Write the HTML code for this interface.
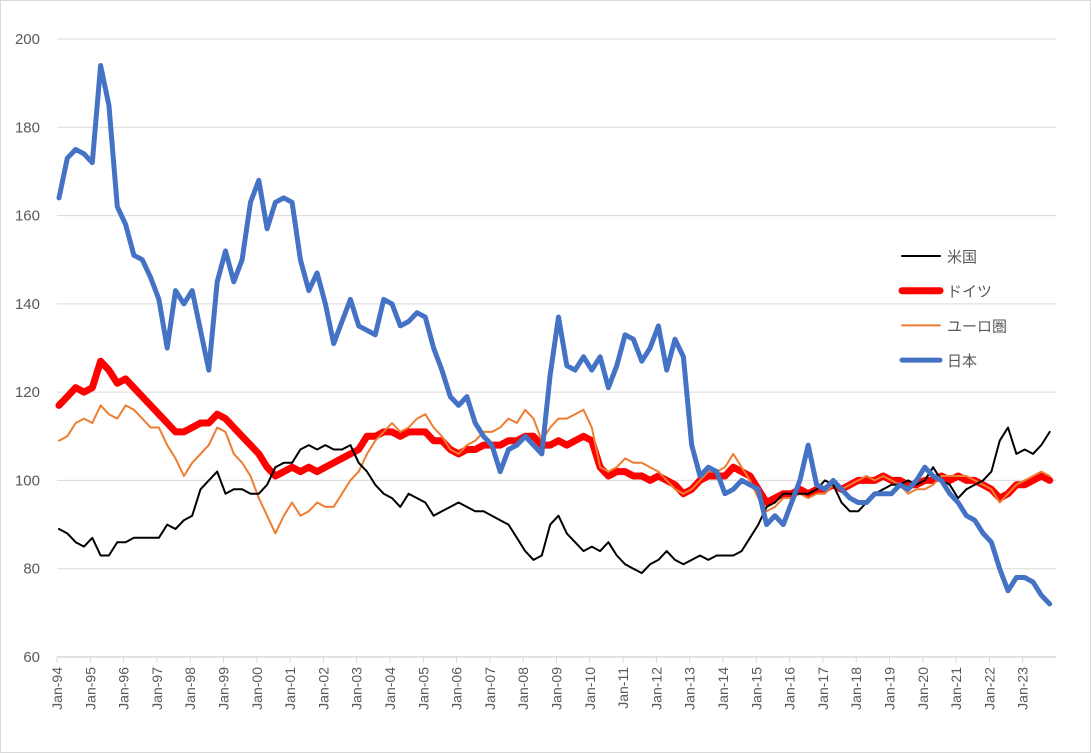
<!DOCTYPE html>
<html><head><meta charset="utf-8"><style>
body{margin:0;background:#fff}
svg{display:block;font-family:"Liberation Sans","Noto Sans CJK JP",sans-serif}
</style></head><body>
<svg id="c" width="1091" height="753">
<rect x="0.5" y="0.5" width="1090" height="752" fill="#fff" stroke="#d9d9d9"/>
<g id="grid"></g><g id="axes"></g><g id="series"></g>
<g id="legend"></g>
</svg>
<script>
const years = ["94","95","96","97","98","99","00","01","02","03","04","05","06","07","08","09","10","11","12","13","14","15","16","17","18","19","20","21","22","23"];
const yTicks = [60,80,100,120,140,160,180,200];
const usValues = [89,88,86,85, 87,83,83,86, 86,87,87,87, 87,90,89,91, 92,98,100,102, 97,98,98,97, 97,99,103,104, 104,107,108,107, 108,107,107,108, 104,102,99,97, 96,94,97,96, 95,92,93,94, 95,94,93,93, 92,91,90,87, 84,82,83,90, 92,88,86,84, 85,84,86,83, 81,80,79,81, 82,84,82,81, 82,83,82,83, 83,83,84,87, 90,94,95,97, 97,97,97,98, 100,99,95,93, 93,95,97,98, 99,99,100,99, 100,103,100,99, 96,98,99,100, 102,109,112,106, 107,106,108,111];
const deValues = [117,119,121,120, 121,127,125,122, 123,121,119,117, 115,113,111,111, 112,113,113,115, 114,112,110,108, 106,103,101,102, 103,102,103,102, 103,104,105,106, 107,110,110,111, 111,110,111,111, 111,109,109,107, 106,107,107,108, 108,108,109,109, 110,110,108,108, 109,108,109,110, 109,103,101,102, 102,101,101,100, 101,100,99,97, 98,100,101,101, 101,103,102,101, 98,95,96,97, 97,98,97,98, 98,99,98,99, 100,100,100,101, 100,100,99,99, 100,100,101,100, 101,100,100,99, 98,96,97,99, 99,100,101,100];
const euValues = [109,110,113,114, 113,117,115,114, 117,116,114,112, 112,108,105,101, 104,106,108,112, 111,106,104,101, 96,92,88,92, 95,92,93,95, 94,94,97,100, 102,106,109,111, 113,111,112,114, 115,112,110,107, 106,108,109,111, 111,112,114,113, 116,114,109,112, 114,114,115,116, 112,103,102,103, 105,104,104,103, 102,100,98,97, 98,100,102,102, 103,106,103,100, 96,93,94,96, 96,97,96,97, 97,99,98,99, 100,101,100,101, 100,99,97,98, 98,99,101,101, 101,101,100,99, 98,95,97,99, 100,101,102,101];
const jpValues = [164,173,175,174, 172,194,185,162, 158,151,150,146, 141,130,143,140, 143,134,125,145, 152,145,150,163, 168,157,163,164, 163,150,143,147, 140,131,136,141, 135,134,133,141, 140,135,136,138, 137,130,125,119, 117,119,113,110, 108,102,107,108, 110,108,106,124, 137,126,125,128, 125,128,121,126, 133,132,127,130, 135,125,132,128, 108,101,103,102, 97,98,100,99, 98,90,92,90, 95,100,108,99, 98,100,98,96, 95,95,97,97, 97,99,98,100, 103,101,100,97, 95,92,91,88, 86,80,75,78, 78,77,74,72];
const seriesNames = ["米国","ドイツ","ユーロ圏","日本"];

const NS="http://www.w3.org/2000/svg";
const x0=57, yearW=33.3, yTop=39, yBot=657, vMin=60, vMax=200, xEnd=1056;
const X=q=>x0+q*yearW/4+2;
const Y=v=>yBot-(v-vMin)/(vMax-vMin)*(yBot-yTop);
function mk(t,a,p){const e=document.createElementNS(NS,t);for(const k in a)e.setAttribute(k,a[k]);p.appendChild(e);return e;}
const grid=document.getElementById('grid'),axes=document.getElementById('axes'),ser=document.getElementById('series'),leg=document.getElementById('legend');
yTicks.forEach(v=>{
 if(v>vMin){const l=mk('line',{x1:x0,x2:xEnd,y1:Y(v),y2:Y(v),stroke:'#d9d9d9','stroke-width':1},grid);
 
 }
 const t=mk('text',{x:40,y:Y(v)+5,'text-anchor':'end','font-size':15,fill:'#595959'},axes);t.textContent=v;
 
 
});
const ax=mk('line',{x1:x0,x2:xEnd,y1:yBot,y2:yBot,stroke:'#d9d9d9','stroke-width':1.5},axes);


years.forEach((yr,i)=>{
 const x=x0+i*yearW;
 mk('line',{x1:x,x2:x,y1:yBot,y2:yBot+6,stroke:'#d9d9d9'},axes);
 const t=mk('text',{x:0,y:0,'text-anchor':'end','font-size':14,fill:'#595959',transform:`translate(${x+5},${yBot+10}) rotate(-90)`},axes);
 t.textContent='Jan-'+yr;
 
 
});
const styles=[["#000",2],["#ff0000",7],["#ed7d31",2],["#4472c4",5]];
const data=[usValues,deValues,euValues,jpValues];
const ids=["us","germany","eurozone","japan"];
[1,2,0,3].forEach(k=>{
 const d=data[k].map((v,i)=>(i?'L':'M')+X(i).toFixed(1)+','+Y(v).toFixed(1)).join('');
 const p=mk('path',{d,fill:'none',stroke:styles[k][0],'stroke-width':styles[k][1],'stroke-linejoin':'round','stroke-linecap':'round'},ser);
 
 
});
seriesNames.forEach((n,k)=>{
 const y=256+k*34.7;
 const g=mk('g',{},leg);
 
 
 mk('line',{x1:902,x2:940,y1:y,y2:y,stroke:styles[k][0],'stroke-width':styles[k][1],'stroke-linecap':'round'},g);
 const t=mk('text',{x:947,y:y+6,'font-size':15,fill:'#595959'},g);t.textContent=n;
});
</script>
</body></html>
